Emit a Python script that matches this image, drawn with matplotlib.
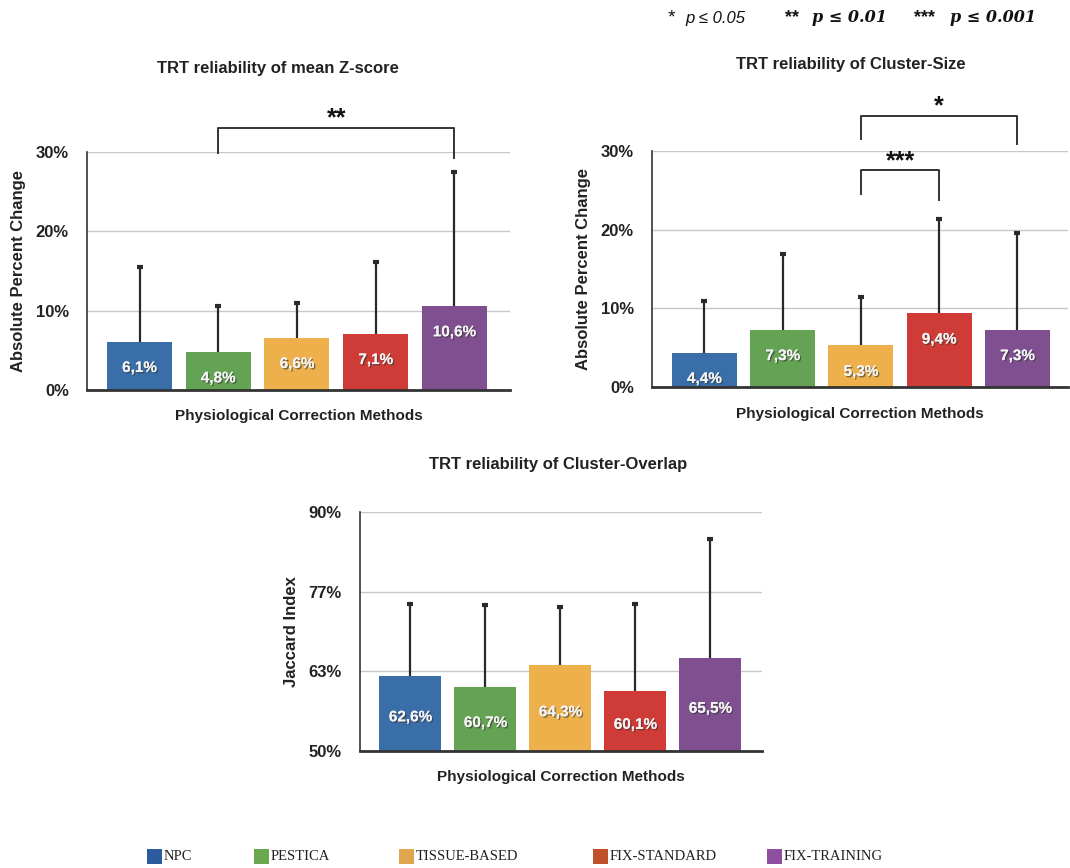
import matplotlib
matplotlib.use("Agg")
import matplotlib.pyplot as plt
import matplotlib.patheffects as pe
from matplotlib.patches import Rectangle

methods = ["NPC", "PESTICA", "TISSUE-BASED", "FIX-STANDARD", "FIX-TRAINING"]
colors = ["#3a6ea8", "#64a254", "#edb04a", "#cf3b36", "#7f4f90"]
legend_colors = ["#2d5c9e", "#6aa84f", "#e0a64f", "#c0502a", "#8e4f9e"]

zscore_vals = [6.1, 4.8, 6.6, 7.1, 10.6]
zscore_err = [9.4, 5.8, 4.4, 9.0, 16.9]
zscore_labels = ["6,1%", "4,8%", "6,6%", "7,1%", "10,6%"]

csize_vals = [4.4, 7.3, 5.3, 9.4, 7.3]
csize_err = [6.6, 9.6, 6.1, 11.9, 12.3]
csize_labels = ["4,4%", "7,3%", "5,3%", "9,4%", "7,3%"]

overlap_vals = [62.6, 60.7, 64.3, 60.1, 65.5]
overlap_err = [12.0, 13.7, 9.8, 14.5, 20.0]
overlap_labels = ["62,6%", "60,7%", "64,3%", "60,1%", "65,5%"]

pct_ticks = [0, 10, 20, 30]
pct_ticklabels = ["0%", "10%", "20%", "30%"]
jac_ticks = [50, 63.33, 76.67, 90]
jac_ticklabels = ["50%", "63%", "77%", "90%"]

fig = plt.figure(figsize=(10.70, 8.68), dpi=100)
fig.patch.set_facecolor("white")

SANS = ["Liberation Sans", "DejaVu Sans"]
shadow = [pe.withSimplePatchShadow(offset=(1, -1), shadow_rgbFace="#333333", alpha=0.6), pe.Normal()]


def panel(rect, vals, errs, labels, ylim, ticks, ticklabels, xlim, width, ylabel,
          label_mode="top"):
    ax = fig.add_axes(rect)
    x = list(range(len(vals)))
    bottoms = [ylim[0]] * len(vals)
    heights = [v - ylim[0] for v in vals]
    ax.bar(x, heights, bottom=bottoms, width=width, color=colors, zorder=3)
    tops = [v + e for v, e in zip(vals, errs)]
    ax.vlines(x, vals, tops, color="#2a2a2a", linewidth=1.6, zorder=4)
    ax.plot(x, tops, linestyle="none", marker="_", markersize=4.5, markeredgewidth=3,
            color="#2a2a2a", zorder=4)
    ax.set_xlim(*xlim)
    ax.set_ylim(*ylim)
    ax.set_yticks(ticks)
    ax.set_yticklabels(ticklabels, fontsize=12, fontweight="bold", family=SANS, color="#222222")
    ax.set_xticks([])
    ax.tick_params(axis="y", length=0, pad=13)
    ax.grid(axis="y", color="#c8c8c8", linewidth=1.0, zorder=0)
    for s in ["top", "right"]:
        ax.spines[s].set_visible(False)
    ax.spines["left"].set_color("#333333")
    ax.spines["left"].set_linewidth(1.2)
    ax.spines["bottom"].set_color("#333333")
    ax.spines["bottom"].set_linewidth(2.0)
    ax.spines["bottom"].set_zorder(5)
    ax.set_xlabel("Physiological Correction Methods", fontsize=11, fontweight="bold",
                  family=SANS, labelpad=14, color="#222222")
    ax.set_ylabel(ylabel, fontsize=12, fontweight="bold", family=SANS, labelpad=7, color="#222222")
    for xi, v, lab in zip(x, vals, labels):
        if label_mode == "top":
            ax.annotate(lab, (xi, v), xytext=(0, -19), textcoords="offset points",
                        ha="center", va="center", color="#f4f4f4", fontsize=11,
                        fontweight="bold", family=SANS, path_effects=shadow, zorder=6)
        else:
            ax.annotate(lab, (xi, (v + ylim[0]) / 2), xytext=(0, -3), textcoords="offset points",
                        ha="center", va="center", color="#f4f4f4", fontsize=11,
                        fontweight="bold", family=SANS, path_effects=shadow, zorder=6)
    return ax


ax1 = panel([0.0813, 0.5507, 0.3953, 0.2742], zscore_vals, zscore_err, zscore_labels,
            (0, 30), pct_ticks, pct_ticklabels, (-0.667, 4.705), 0.826,
            "Absolute Percent Change")
ax2 = panel([0.6093, 0.5538, 0.3888, 0.2726], csize_vals, csize_err, csize_labels,
            (0, 30), pct_ticks, pct_ticklabels, (-0.671, 4.645), 0.83,
            "Absolute Percent Change")
ax3 = panel([0.3364, 0.1351, 0.3757, 0.2747], overlap_vals, overlap_err, overlap_labels,
            (50, 90), jac_ticks, jac_ticklabels, (-0.673, 4.687), 0.827,
            "Jaccard Index", label_mode="mid")


def bracket(ax, x0, x1, top, y0, y1, stars, star_y, fs=18):
    ax.plot([x0, x0, x1, x1], [y0, top, top, y1], color="#333333", lw=1.4,
            clip_on=False, zorder=6)
    ax.text((x0 + x1) / 2, star_y, stars, ha="center", va="center", fontsize=fs,
            fontweight="bold", family=SANS, color="#111111", clip_on=False)


bracket(ax1, 1, 4, 33.0, 29.9, 29.3, "**", 34.2)
bracket(ax2, 2, 4, 34.4, 31.5, 30.8, "*", 35.6)
bracket(ax2, 2, 3, 27.6, 24.5, 23.7, "***", 28.6)

# titles
title_kw = dict(ha="center", va="center", fontsize=12, fontweight="bold", family=SANS,
                color="#222222")
fig.text(278 / 1070, 1 - 68 / 868, "TRT reliability of mean Z-score", **title_kw)
fig.text(851 / 1070, 1 - 64 / 868, "TRT reliability of Cluster-Size", **title_kw)
fig.text(558 / 1070, 1 - 465 / 868, "TRT reliability of Cluster-Overlap", **title_kw)

# significance key (top right)
key_y = 1 - 18 / 868
fig.text(668 / 1070, key_y, "*", ha="left", va="center", fontsize=14, family=SANS, color="#111111")
fig.text(685 / 1070, key_y, "p ≤ 0.05", ha="left", va="center", fontsize=12, style="italic",
         family=["Liberation Sans Narrow", "Liberation Sans", "DejaVu Sans"], color="#111111")
fig.text(785 / 1070, key_y, "**", ha="left", va="center", fontsize=13, fontweight="bold",
         family=SANS, color="#111111")
fig.text(812 / 1070, key_y, "p ≤ 0.01", ha="left", va="center", fontsize=11.5, style="italic",
         fontweight="bold", family=["DejaVu Serif", "DejaVu Sans"], color="#111111")
fig.text(914 / 1070, key_y, "***", ha="left", va="center", fontsize=13, fontweight="bold",
         family=SANS, color="#111111")
fig.text(950 / 1070, key_y, "p ≤ 0.001", ha="left", va="center", fontsize=11.5, style="italic",
         fontweight="bold", family=["DejaVu Serif", "DejaVu Sans"], color="#111111")

# legend
leg_sq_x = [147, 254, 399, 593, 767]
leg_y = 856
for lx, col, name in zip(leg_sq_x, legend_colors, methods):
    fig.patches.append(Rectangle(((lx) / 1070, 1 - (leg_y + 7.5) / 868), 15 / 1070, 15 / 868,
                                 transform=fig.transFigure, facecolor=col, edgecolor="none"))
    fig.text((lx + 17) / 1070, 1 - leg_y / 868, name, ha="left", va="center", fontsize=10.5,
             family=["Liberation Serif", "DejaVu Serif"], color="#222222")

fig.savefig("out.png", dpi=100, facecolor="white")
